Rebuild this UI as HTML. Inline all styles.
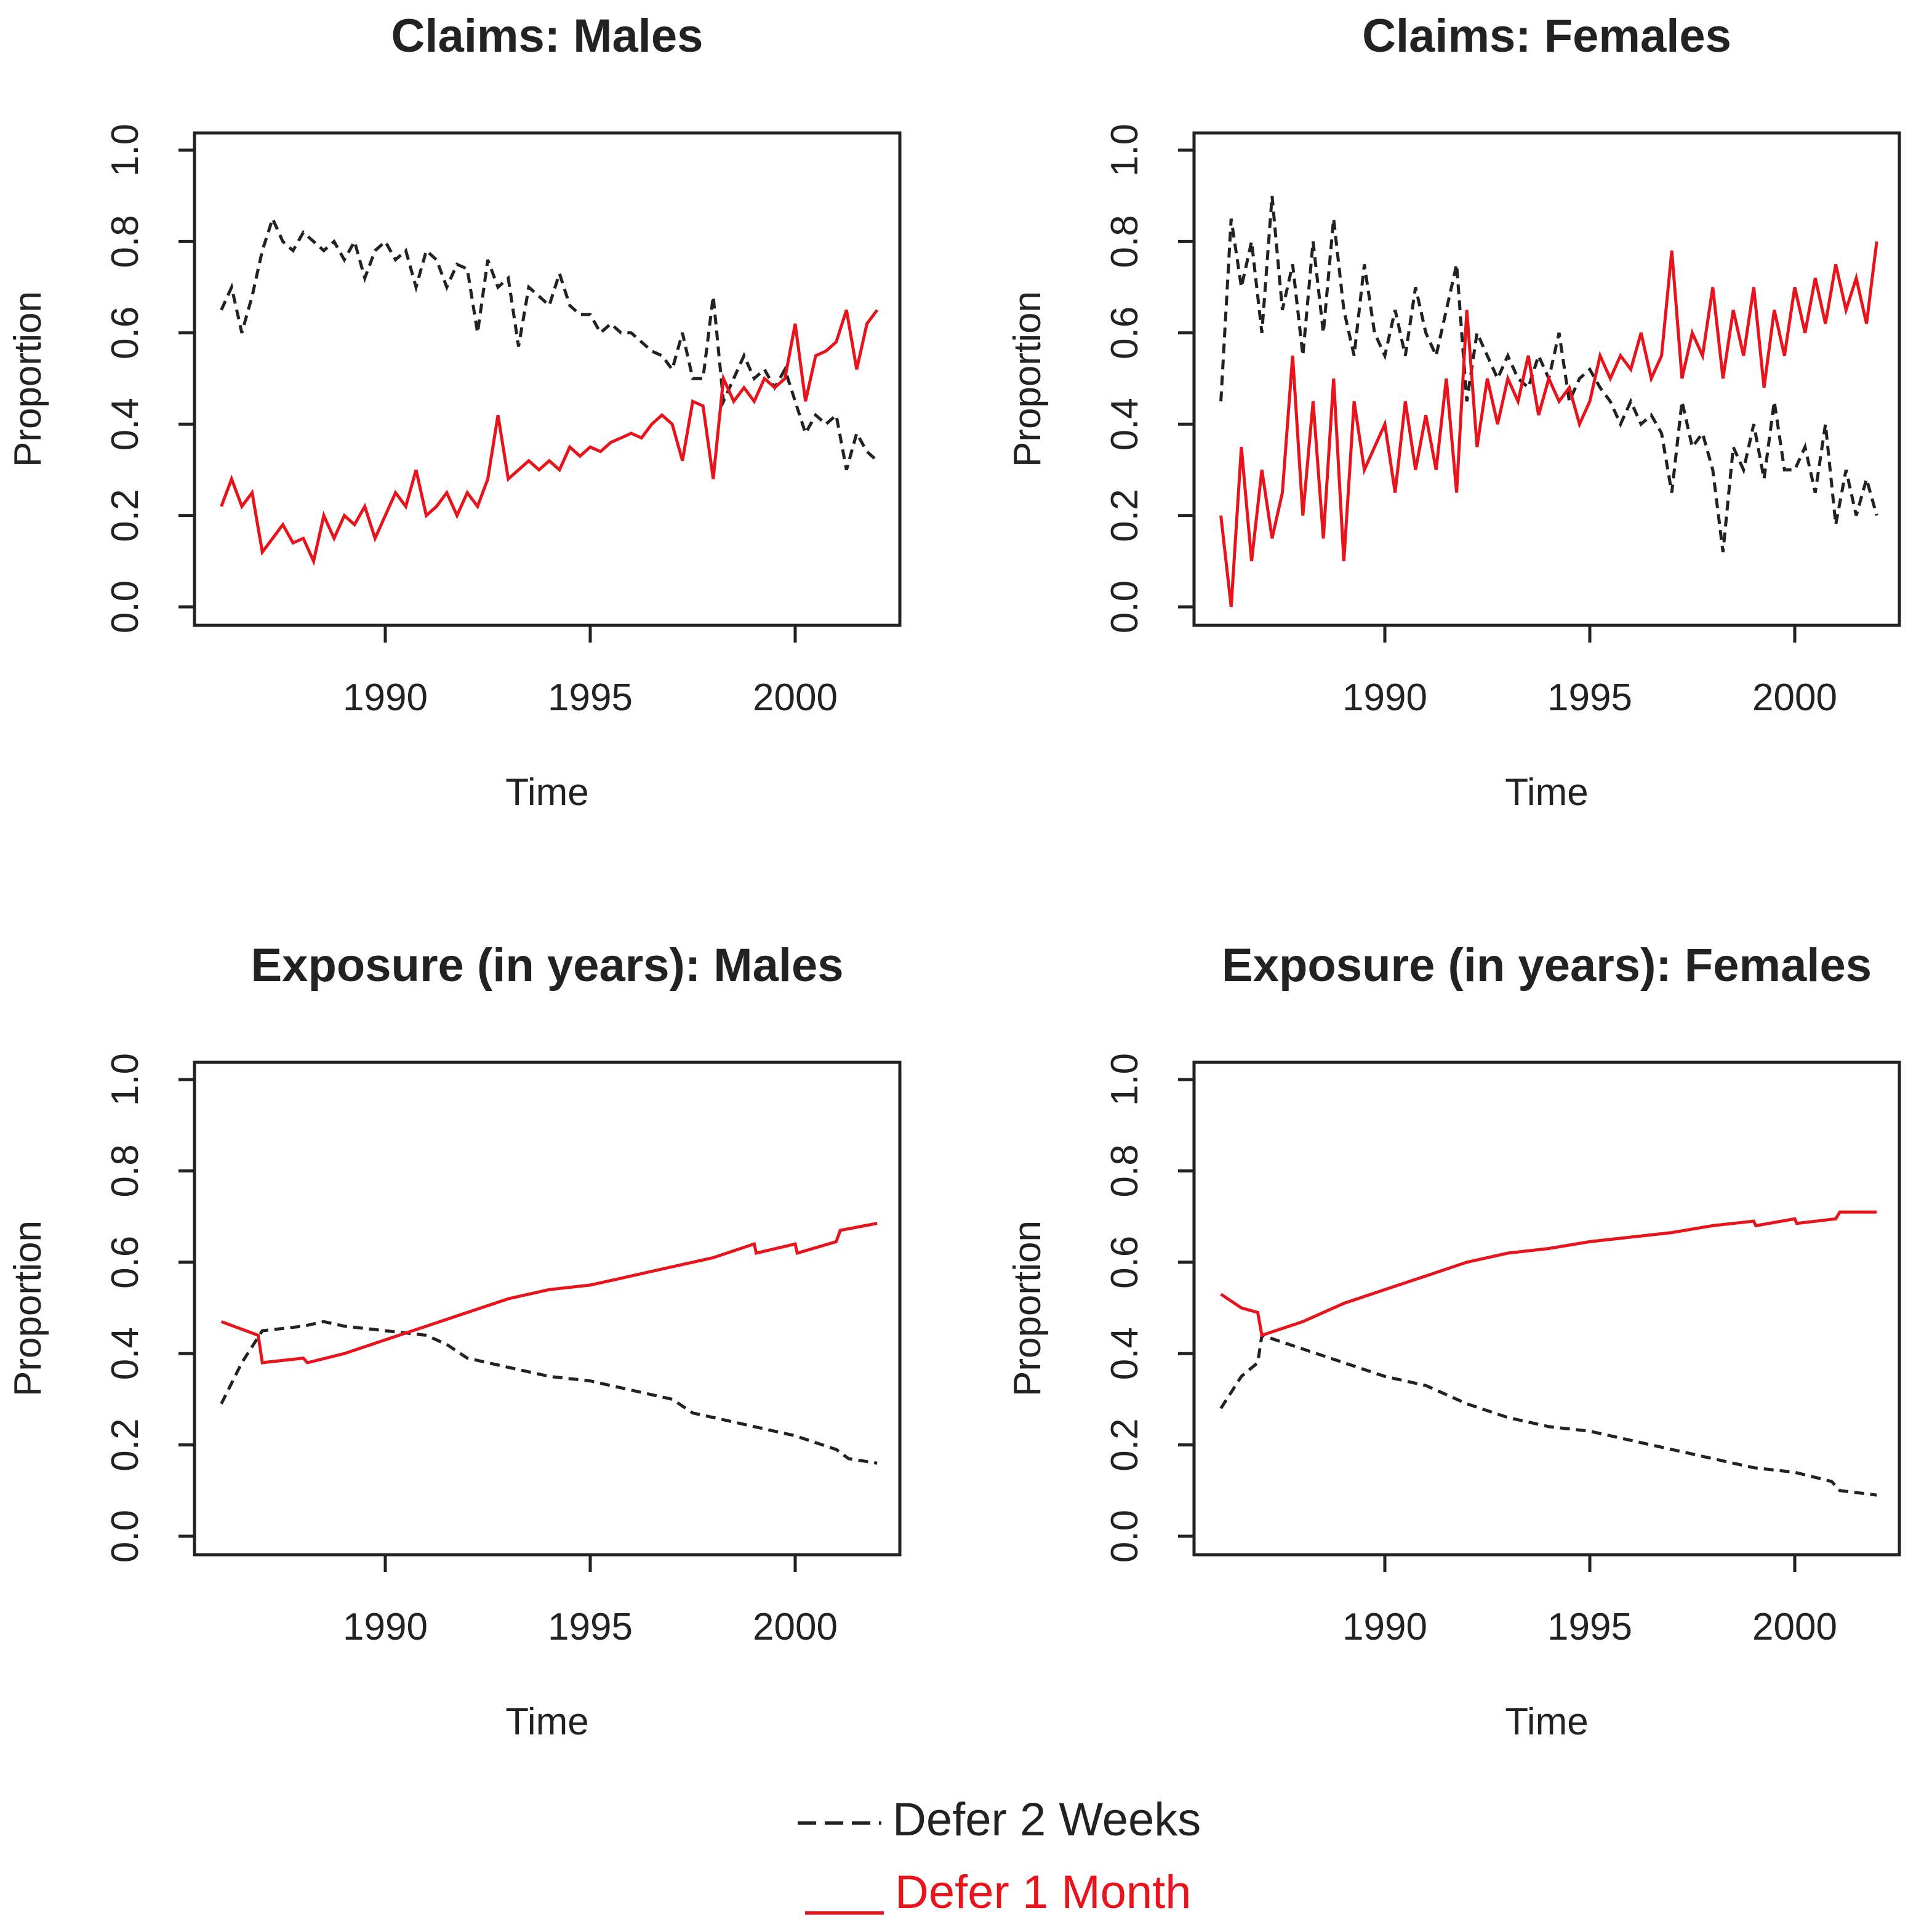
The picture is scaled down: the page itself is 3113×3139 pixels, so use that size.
<!DOCTYPE html>
<html><head><meta charset="utf-8"><style>
html,body{margin:0;padding:0;background:#fff;}
svg{display:block;font-family:"Liberation Sans",sans-serif;}
</style></head><body>
<svg id="chart" width="3113" height="3139" viewBox="0 0 3113 3139" xmlns="http://www.w3.org/2000/svg">
<rect width="3113" height="3139" fill="#fff"/>
<g>
<line x1="1296" y1="2962" x2="1432" y2="2962" stroke="#222" stroke-width="5.5" stroke-dasharray="30,14"/>
<text x="1450" y="2982" font-size="76" fill="#222">Defer 2 Weeks</text>
<line x1="1308" y1="3108" x2="1436" y2="3108" stroke="#e8141c" stroke-width="5.5"/>
<text x="1454" y="3100" font-size="76" fill="#e8141c">Defer 1 Month</text>
</g>
</svg>
<script>
// quarterly claims data, t = 1986 + i/4
const claimsMaleTwoWeeks=[0.65,0.7,0.6,0.68,0.78,0.85,0.8,0.78,0.82,0.8,0.78,0.8,0.76,0.8,0.72,0.78,0.8,0.76,0.78,0.7,0.78,0.76,0.7,0.75,0.74,0.6,0.76,0.7,0.72,0.57,0.7,0.68,0.66,0.73,0.66,0.64,0.64,0.6,0.62,0.6,0.6,0.58,0.56,0.55,0.52,0.6,0.5,0.5,0.68,0.45,0.5,0.55,0.5,0.52,0.48,0.52,0.45,0.38,0.42,0.4,0.42,0.3,0.38,0.34,0.32];
const claimsMaleOneMonth=[0.22,0.28,0.22,0.25,0.12,0.15,0.18,0.14,0.15,0.1,0.2,0.15,0.2,0.18,0.22,0.15,0.2,0.25,0.22,0.3,0.2,0.22,0.25,0.2,0.25,0.22,0.28,0.42,0.28,0.3,0.32,0.3,0.32,0.3,0.35,0.33,0.35,0.34,0.36,0.37,0.38,0.37,0.4,0.42,0.4,0.32,0.45,0.44,0.28,0.5,0.45,0.48,0.45,0.5,0.48,0.5,0.62,0.45,0.55,0.56,0.58,0.65,0.52,0.62,0.65];
const claimsFemaleTwoWeeks=[0.45,0.85,0.7,0.8,0.6,0.9,0.65,0.75,0.55,0.8,0.6,0.85,0.65,0.55,0.75,0.6,0.55,0.65,0.55,0.7,0.6,0.55,0.65,0.75,0.45,0.6,0.55,0.5,0.55,0.5,0.48,0.55,0.5,0.6,0.45,0.5,0.52,0.48,0.45,0.4,0.45,0.4,0.42,0.38,0.25,0.45,0.35,0.38,0.3,0.12,0.35,0.3,0.4,0.28,0.45,0.3,0.3,0.35,0.25,0.4,0.18,0.3,0.2,0.28,0.2];
const claimsFemaleOneMonth=[0.2,0.0,0.35,0.1,0.3,0.15,0.25,0.55,0.2,0.45,0.15,0.5,0.1,0.45,0.3,0.35,0.4,0.25,0.45,0.3,0.42,0.3,0.5,0.25,0.65,0.35,0.5,0.4,0.5,0.45,0.55,0.42,0.5,0.45,0.48,0.4,0.45,0.55,0.5,0.55,0.52,0.6,0.5,0.55,0.78,0.5,0.6,0.55,0.7,0.5,0.65,0.55,0.7,0.48,0.65,0.55,0.7,0.6,0.72,0.62,0.75,0.65,0.72,0.62,0.8];
// exposure data (time, value)
const expMaleTwoWeeksT=[1986,1986.5,1987,1988,1988.5,1989,1990,1991,1991.5,1992,1993,1994,1995,1996,1997,1997.5,1998,1999,2000,2001,2001.3,2002];
const expMaleTwoWeeksV=[0.29,0.38,0.45,0.46,0.47,0.46,0.45,0.44,0.42,0.39,0.37,0.35,0.34,0.32,0.30,0.27,0.26,0.24,0.22,0.19,0.17,0.16];
const expMaleOneMonthT=[1986,1986.9,1987,1988,1988.1,1989,1990,1991,1992,1993,1994,1995,1996,1997,1998,1999,1999.05,2000,2000.05,2001,2001.1,2002];
const expMaleOneMonthV=[0.47,0.44,0.38,0.39,0.38,0.40,0.43,0.46,0.49,0.52,0.54,0.55,0.57,0.59,0.61,0.64,0.62,0.64,0.62,0.645,0.67,0.685];
const expFemaleTwoWeeksT=[1986,1986.5,1986.9,1987,1988,1989,1990,1991,1992,1993,1994,1995,1996,1997,1998,1999,2000,2000.9,2001.1,2002];
const expFemaleTwoWeeksV=[0.28,0.35,0.38,0.44,0.41,0.38,0.35,0.33,0.29,0.26,0.24,0.23,0.21,0.19,0.17,0.15,0.14,0.12,0.10,0.09];
const expFemaleOneMonthT=[1986,1986.5,1986.9,1987,1988,1989,1990,1991,1992,1993,1994,1995,1996,1997,1998,1999,1999.05,2000,2000.05,2001,2001.1,2002];
const expFemaleOneMonthV=[0.53,0.5,0.49,0.44,0.47,0.51,0.54,0.57,0.60,0.62,0.63,0.645,0.655,0.665,0.68,0.69,0.68,0.695,0.685,0.695,0.71,0.71];
const yTicks=[0.0,0.2,0.4,0.6,0.8,1.0];
const yTickLabels=["0.0","0.2","0.4","0.6","0.8","1.0"];
const xTicks=[1990,1995,2000];
const xTickLabels=["1990","1995","2000"];

const svg=document.getElementById('chart');
const NS='http://www.w3.org/2000/svg';
function mk(tag,attrs,parent){const e=document.createElementNS(NS,tag);for(const k in attrs)e.setAttribute(k,attrs[k]);parent.appendChild(e);return e;}
function quarterT(n){const t=[];for(let i=0;i<n;i++)t.push(1986+i/4);return t;}

function panel(ox,oy,title,slug,blackT,blackV,redT,redV){
  const g=mk('g',{},svg);
  
  
  const xs=v=>ox+626+(v-1990)*66.6;
  const ys=v=>oy+986-v*742;
  const t=mk('text',{x:ox+889,y:oy+84,'font-size':76,'font-weight':'bold','text-anchor':'middle',fill:'#222'},g);
  t.textContent=title;
  
  
  const box=mk('rect',{x:ox+316,y:oy+216,width:1146,height:800,fill:'none',stroke:'#222','stroke-width':5},g);
  
  
  yTicks.forEach((v,i)=>{
    const l=mk('line',{x1:ox+290,x2:ox+316,y1:ys(v),y2:ys(v),stroke:'#222','stroke-width':5},g);
    
    
    const tx=mk('text',{x:ox+224,y:ys(v),'font-size':62,'text-anchor':'middle',fill:'#222',transform:'rotate(-90 '+(ox+224)+' '+ys(v)+')'},g);
    tx.textContent=yTickLabels[i];
    
    
  });
  xTicks.forEach((v,i)=>{
    const l=mk('line',{x1:xs(v),x2:xs(v),y1:oy+1016,y2:oy+1044,stroke:'#222','stroke-width':5},g);
    
    
    const tx=mk('text',{x:xs(v),y:oy+1154,'font-size':62,'text-anchor':'middle',fill:'#222'},g);
    tx.textContent=xTickLabels[i];
    
    
  });
  const xt=mk('text',{x:ox+889,y:oy+1308,'font-size':62,'text-anchor':'middle',fill:'#222'},g);
  xt.textContent='Time';
  
  
  const yt=mk('text',{x:ox+66,y:oy+616,'font-size':62,'text-anchor':'middle',fill:'#222',transform:'rotate(-90 '+(ox+66)+' '+(oy+616)+')'},g);
  yt.textContent='Proportion';
  
  
  const pts=(T,V)=>T.map((x,i)=>xs(x).toFixed(1)+','+ys(V[i]).toFixed(1)).join(' ');
  const pb=mk('polyline',{points:pts(blackT,blackV),fill:'none',stroke:'#222','stroke-width':5,'stroke-dasharray':'16,10'},g);
  
  
  const pr=mk('polyline',{points:pts(redT,redV),fill:'none',stroke:'#e8141c','stroke-width':5},g);
  
  
}
const qT=quarterT(65);
panel(0,0,'Claims: Males','claims-males',qT,claimsMaleTwoWeeks,qT,claimsMaleOneMonth);
panel(1624,0,'Claims: Females','claims-females',qT,claimsFemaleTwoWeeks,qT,claimsFemaleOneMonth);
panel(0,1510,'Exposure (in years): Males','exposure-males',expMaleTwoWeeksT,expMaleTwoWeeksV,expMaleOneMonthT,expMaleOneMonthV);
panel(1624,1510,'Exposure (in years): Females','exposure-females',expFemaleTwoWeeksT,expFemaleTwoWeeksV,expFemaleOneMonthT,expFemaleOneMonthV);
</script>
</body></html>
